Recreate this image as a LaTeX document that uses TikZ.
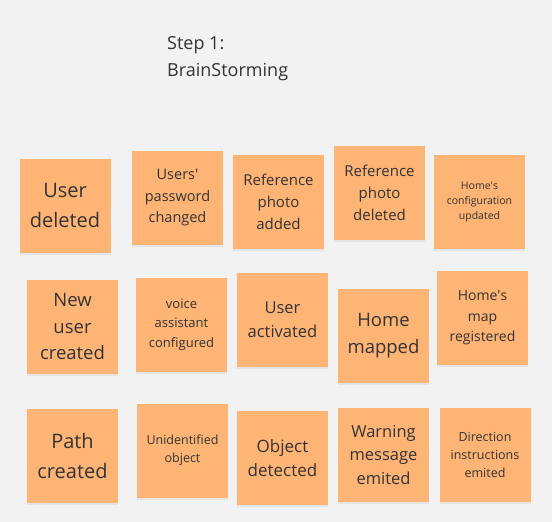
\documentclass[tikz,border=0pt]{standalone}
\usepackage{fontspec}
\setmainfont{Open Sans}
\usetikzlibrary{shadows}
\definecolor{bggray}{HTML}{F2F2F2}
\definecolor{notefill}{HTML}{FEB475}
\definecolor{inkgray}{HTML}{333333}
\newcommand{\fs}[2]{\fontsize{#1}{#2}\selectfont}

\begin{document}
\begin{tikzpicture}[x=1pt,y=-1pt]
	\tikzstyle{sticky}=[draw=none,fill=notefill,minimum width=91pt,minimum height=94pt,inner sep=0pt,
		text width=86pt,align=center,text=inkgray,
		drop shadow={opacity=0.12,shadow xshift=0pt,shadow yshift=-2pt}];
	\fill[bggray] (0,0) rectangle (552,522);
	\node[anchor=base west,align=left,inner sep=0pt,text=inkgray,font=\fs{18}{27}] (title) at (167,76) {Step 1:\\BrainStorming};
	\node[sticky,font=\fs{20}{30}]     (udel)    at (65,205.5)  {User\\deleted};
	\node[sticky,font=\fs{14.5}{21.5}] (pwd)     at (177.5,198) {Users\textquotesingle\\password\\changed};
	\node[sticky,font=\fs{15}{22}]     (refadd)  at (278.5,202) {Reference\\photo\\added};
	\node[sticky,font=\fs{15}{22}]     (refdel)  at (379.5,193) {Reference\\photo\\deleted};
	\node[sticky,font=\fs{10.5}{15}]   (homecfg) at (479.5,202) {Home\textquotesingle s\\configuration\\updated};
	\node[sticky,font=\fs{18.5}{26.5}] (newuser) at (72.5,326.5) {New\\user\\created};
	\node[sticky,font=\fs{13}{19.5}]   (voice)   at (181.5,324.5) {voice\\assistant\\configured};
	\node[sticky,font=\fs{16.5}{24}]   (uact)    at (282.5,319.5) {User\\activated};
	\node[sticky,font=\fs{18.5}{26.5}] (homemap) at (383.5,335.5) {Home\\mapped};
	\node[sticky,font=\fs{14}{20.5}]   (mapreg)  at (482.5,318) {Home\textquotesingle s\\map\\registered};
	\node[sticky,font=\fs{20}{30}]     (path)    at (72.5,455.5) {Path\\created};
	\node[sticky,font=\fs{12.5}{18}]   (unid)    at (182.5,450.5) {Unidentified\\object};
	\node[sticky,font=\fs{17}{24.5}]   (objdet)  at (282.5,458) {Object\\detected};
	\node[sticky,font=\fs{16.5}{23.5}] (warn)    at (383.5,455) {Warning\\message\\emited};
	\node[sticky,font=\fs{12.5}{18}]   (dirinst) at (485,455) {Direction\\instructions\\emited};
\end{tikzpicture}
\end{document}
